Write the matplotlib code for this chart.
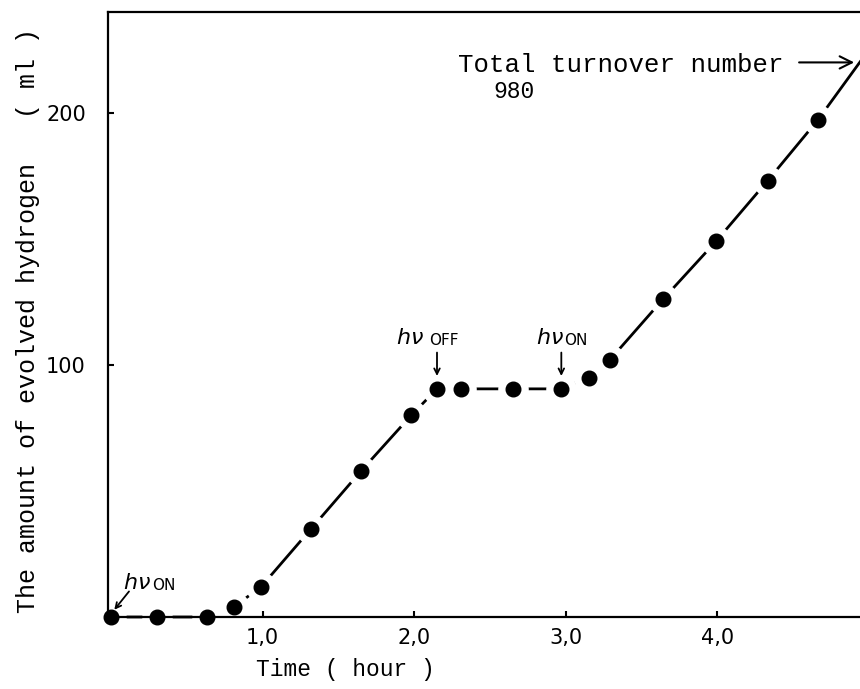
import matplotlib
matplotlib.use("Agg")
import matplotlib.pyplot as plt

## ------------------------------- ##
## data
time_h = [0, 0.30, 0.63, 0.81, 0.99, 1.32, 1.65, 1.98, 2.15, 2.31,
          2.65, 2.97, 3.15, 3.29, 3.64, 3.99, 4.33, 4.66]
h2_ml = [0, 0, 0, 4, 12, 35, 58, 80, 90.5, 90.5,
         90.5, 90.5, 95, 102, 126, 149, 173, 197]
# the drawn line goes on past the last point up to the "total turnover" arrow
line_end_t = 4.95
line_end_y = 221

xticks = [1.0, 2.0, 3.0, 4.0]
xtick_labels = ["1,0", "2,0", "3,0", "4,0"]
yticks = [100, 200]
ytick_labels = ["100", "200"]
## ------------------------------- ##

mono = "Liberation Mono"
narrow = ["Liberation Sans Narrow", "DejaVu Sans"]
script = ["DejaVu Serif"]

fig = plt.figure(figsize=(8.6, 6.89), dpi=100)
ax = fig.add_axes([108 / 860, 1 - 617 / 689, 1 - 108 / 860, (617 - 12) / 689])

# curve: line with gaps around each dot
ax.plot(time_h + [line_end_t], h2_ml + [line_end_y], color="black", lw=2.0,
        solid_capstyle="butt", zorder=1, clip_on=False)
ax.plot(time_h, h2_ml, ls="none", marker="o", ms=22, mfc="white", mec="none",
        zorder=2, clip_on=False)
ax.plot(time_h, h2_ml, ls="none", marker="o", ms=10.5, mfc="black", mec="black",
        zorder=3, clip_on=False)

ax.set_xlim(-0.02, 4.94)
ax.set_ylim(0, 240)

for side in ["left", "bottom", "top"]:
    ax.spines[side].set_linewidth(1.6)
    ax.spines[side].set_zorder(2.5)
ax.spines["right"].set_visible(False)

ax.set_xticks(xticks)
ax.set_xticklabels(xtick_labels, family=narrow, fontsize=15)
ax.set_yticks(yticks)
ax.set_yticklabels(ytick_labels, family=narrow, fontsize=15)
ax.tick_params(direction="in", length=4, width=1.5)
ax.tick_params(axis="x", pad=8)
ax.tick_params(axis="y", pad=16)

ax.set_xlabel("Time ( hour )", family=mono, fontsize=16.5)
ax.xaxis.set_label_coords(0.316, -0.068)
ax.set_ylabel("The amount of evolved hydrogen   ( ml )", family=mono,
              fontsize=18)
ax.yaxis.set_label_coords(-0.090, 0.49)

# light on / off marks
ax.annotate("", xy=(0.01, 2), xytext=(0.13, 11),
            arrowprops=dict(arrowstyle="->", color="black", lw=1.3))
ax.text(0.08, 13.5, r"$h\nu$", fontsize=16, family=script, ha="left", va="center")
ax.text(0.27, 12.5, "ON", fontsize=11, family=narrow, ha="left", va="center")

ax.annotate("", xy=(2.15, 94.5), xytext=(2.15, 106),
            arrowprops=dict(arrowstyle="->", color="black", lw=1.3))
ax.text(1.88, 110.5, r"$h\nu$", fontsize=16, family=script, ha="left", va="center")
ax.text(2.10, 109.5, "OFF", fontsize=11, family=narrow, ha="left", va="center")

ax.annotate("", xy=(2.97, 94.5), xytext=(2.97, 106),
            arrowprops=dict(arrowstyle="->", color="black", lw=1.3))
ax.text(2.80, 110.5, r"$h\nu$", fontsize=16, family=script, ha="left", va="center")
ax.text(2.99, 109.5, "ON", fontsize=11, family=narrow, ha="left", va="center")

# total turnover
ax.text(2.29, 219, "Total turnover number", family=mono, fontsize=18.5,
        ha="left", va="center")
ax.text(2.66, 208.5, "980", family=mono, fontsize=16.5, ha="center", va="center")
ax.annotate("", xy=(4.92, 220), xytext=(4.52, 220),
            arrowprops=dict(arrowstyle="->", color="black", lw=1.5,
                            mutation_scale=22))

fig.savefig("out.png", dpi=100)
